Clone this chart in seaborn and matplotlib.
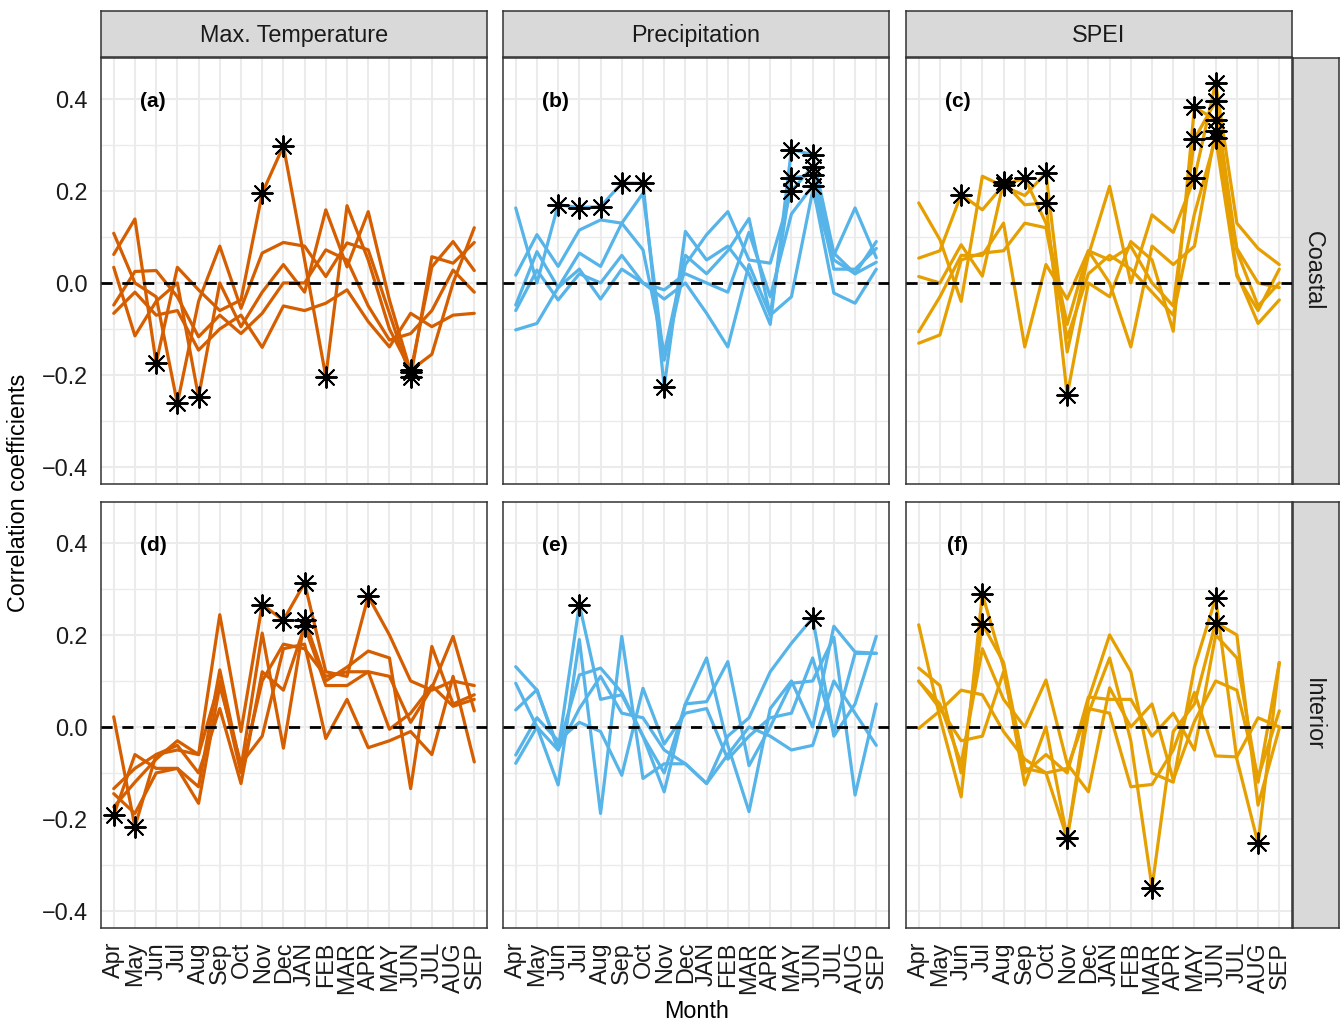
import numpy as np
import pandas as pd
import matplotlib
matplotlib.use("Agg")
import matplotlib.pyplot as plt
import seaborn as sns
from matplotlib.ticker import FixedLocator, FuncFormatter

# ---------------- data ----------------
months = ["Apr", "May", "Jun", "Jul", "Aug", "Sep", "Oct", "Nov", "Dec",
          "JAN", "FEB", "MAR", "APR", "MAY", "JUN", "JUL", "AUG", "SEP"]
variables = ["Max. Temperature", "Precipitation", "SPEI"]
regions = ["Coastal", "Interior"]
panel_tags = ["(a)", "(b)", "(c)", "(d)", "(e)", "(f)"]
var_colors = ["#D55E00", "#56B4E9", "#E69F00"]

tmax_coastal = [
    [0.062, 0.139, -0.174, 0.034, -0.015, -0.06, -0.037, 0.195, 0.298, 0.05, -0.204, 0.168, 0.05, -0.1, -0.19, -0.155, 0.0, 0.12],
    [0.108, 0.0, -0.03, -0.262, -0.04, 0.08, -0.055, 0.065, 0.088, 0.08, 0.014, 0.087, 0.072, -0.066, -0.205, 0.057, 0.043, 0.088],
    [0.034, -0.115, -0.04, 0.0, -0.248, 0.0, -0.095, -0.02, 0.04, -0.02, 0.159, 0.035, 0.155, -0.037, -0.193, 0.035, 0.09, 0.027],
    [-0.048, 0.025, 0.027, -0.03, -0.117, -0.07, -0.11, -0.066, 0.0, 0.0, 0.072, 0.05, -0.05, -0.124, -0.11, -0.06, 0.028, -0.02],
    [-0.066, -0.02, -0.07, -0.06, -0.146, -0.1, -0.07, -0.14, -0.05, -0.06, -0.044, -0.015, -0.084, -0.139, -0.066, -0.095, -0.07, -0.066],
]
tmax_coastal_sig = [(0, 2), (1, 3), (2, 4), (0, 7), (0, 8), (0, 10), (0, 14), (1, 14), (2, 14)]

prec_coastal = [
    [0.163, 0.0, 0.17, 0.164, 0.166, 0.217, 0.217, -0.226, 0.112, 0.05, 0.08, 0.02, -0.09, 0.29, 0.279, 0.065, 0.02, 0.09],
    [0.017, 0.105, 0.036, 0.115, 0.137, 0.13, 0.195, -0.168, 0.04, 0.105, 0.155, 0.05, 0.043, 0.2, 0.253, 0.06, 0.163, 0.055],
    [-0.048, 0.068, -0.01, 0.065, 0.036, 0.13, 0.072, -0.153, 0.06, 0.02, 0.07, 0.14, -0.07, 0.228, 0.235, 0.03, 0.03, 0.075],
    [-0.06, 0.028, -0.037, 0.02, 0.0, 0.06, 0.0, -0.015, 0.02, 0.0, -0.02, 0.11, -0.03, 0.15, 0.211, -0.022, -0.044, 0.03],
    [-0.102, -0.088, -0.01, 0.03, -0.035, 0.03, 0.0, -0.035, 0.0, -0.066, -0.139, 0.04, -0.07, -0.03, 0.2, 0.05, 0.02, 0.045],
]
prec_coastal_sig = [(0, 2), (0, 3), (0, 4), (0, 5), (0, 6), (0, 7), (0, 13), (0, 14),
                    (1, 13), (1, 14), (2, 13), (2, 14), (3, 14)]

spei_coastal = [
    [0.174, 0.094, -0.04, 0.232, 0.21, 0.19, 0.239, -0.15, 0.06, 0.21, 0.0, 0.148, 0.11, 0.228, 0.435, 0.13, 0.075, 0.04],
    [0.054, 0.07, 0.192, 0.159, 0.213, 0.228, 0.13, -0.09, 0.07, 0.05, 0.08, 0.0, -0.05, 0.313, 0.395, 0.07, -0.05, 0.0],
    [0.014, 0.0, 0.083, 0.015, 0.219, 0.17, 0.174, -0.244, 0.0, -0.03, 0.09, 0.05, -0.105, 0.382, 0.355, 0.02, -0.088, -0.037],
    [-0.106, -0.03, 0.06, 0.06, 0.13, -0.139, 0.04, -0.035, 0.07, 0.0, -0.139, 0.08, 0.04, 0.08, 0.33, 0.075, 0.0, -0.01],
    [-0.131, -0.113, 0.05, 0.065, 0.07, 0.13, 0.12, -0.12, 0.02, 0.06, 0.03, -0.02, -0.07, 0.15, 0.315, 0.015, -0.06, 0.03],
]
spei_coastal_sig = [(0, 6), (0, 13), (0, 14), (1, 2), (1, 4), (1, 5), (1, 13), (1, 14),
                    (2, 4), (2, 6), (2, 7), (2, 13), (2, 14), (3, 14), (4, 14)]

tmax_interior = [
    [0.022, -0.217, -0.06, -0.05, -0.06, 0.244, -0.01, 0.266, 0.232, 0.313, 0.12, 0.11, 0.284, 0.2, 0.1, 0.08, 0.1, 0.09],
    [-0.192, -0.06, -0.09, -0.09, -0.13, 0.124, -0.09, 0.204, -0.046, 0.233, 0.1, 0.13, 0.165, 0.15, -0.134, 0.175, 0.05, 0.07],
    [-0.134, -0.09, -0.06, -0.04, -0.1, 0.04, -0.123, 0.12, 0.08, 0.219, 0.09, 0.09, 0.12, 0.11, 0.01, 0.085, 0.197, 0.035],
    [-0.145, -0.188, -0.1, -0.09, -0.166, 0.09, -0.08, -0.02, 0.17, 0.18, -0.025, 0.06, -0.045, -0.03, -0.01, -0.06, 0.11, -0.076],
    [-0.174, -0.12, -0.07, -0.03, -0.06, 0.1, -0.1, 0.1, 0.18, 0.17, 0.11, 0.12, 0.12, -0.005, 0.03, 0.09, 0.045, 0.06],
]
tmax_interior_sig = [(0, 1), (0, 7), (0, 8), (0, 9), (0, 12), (1, 0), (1, 9), (2, 9)]

prec_interior = [
    [0.131, 0.08, -0.05, 0.266, 0.06, 0.07, -0.02, -0.1, 0.05, 0.15, -0.04, -0.184, 0.04, 0.1, 0.0, 0.219, 0.163, 0.16],
    [0.095, 0.0, -0.126, 0.19, -0.188, 0.197, -0.112, -0.08, -0.08, -0.123, -0.02, 0.02, 0.12, 0.182, 0.237, -0.02, 0.05, 0.197],
    [0.037, 0.081, -0.046, 0.113, 0.128, 0.075, -0.02, -0.141, 0.05, 0.055, 0.142, -0.084, 0.0, 0.095, 0.1, 0.195, -0.148, 0.05],
    [-0.061, 0.02, -0.03, 0.01, -0.01, -0.105, 0.084, -0.037, 0.03, 0.04, -0.07, -0.02, 0.02, 0.03, 0.15, -0.01, 0.16, 0.16],
    [-0.079, 0.0, -0.05, 0.04, 0.11, 0.03, 0.02, -0.05, -0.08, -0.123, -0.06, 0.0, -0.02, -0.05, -0.04, 0.1, 0.03, -0.04],
]
prec_interior_sig = [(0, 3), (1, 14)]

spei_interior = [
    [0.222, 0.02, -0.152, 0.289, 0.13, -0.126, 0.0, -0.242, 0.06, 0.2, 0.12, -0.1, -0.12, 0.13, 0.28, -0.07, -0.253, 0.14],
    [0.128, 0.09, -0.1, 0.224, 0.14, -0.09, -0.1, -0.242, 0.03, 0.15, -0.03, -0.349, -0.01, 0.05, 0.227, 0.2, -0.17, -0.003],
    [0.099, 0.05, -0.08, 0.17, 0.06, 0.0, 0.102, -0.08, -0.141, 0.085, 0.0, 0.05, -0.115, 0.012, 0.1, 0.08, -0.11, 0.035],
    [-0.003, 0.035, 0.08, 0.07, -0.01, -0.07, -0.1, -0.09, 0.04, 0.03, -0.13, -0.125, -0.05, 0.075, -0.063, -0.065, 0.02, 0.0],
    [0.1, 0.04, -0.03, -0.02, 0.12, -0.1, -0.06, -0.1, 0.065, 0.06, 0.06, -0.02, 0.03, -0.05, 0.2, 0.15, -0.12, 0.14],
]
spei_interior_sig = [(0, 3), (0, 7), (0, 14), (0, 16), (1, 3), (1, 7), (1, 11), (1, 14)]

panel_series = {
    ("Max. Temperature", "Coastal"): (tmax_coastal, tmax_coastal_sig),
    ("Precipitation", "Coastal"): (prec_coastal, prec_coastal_sig),
    ("SPEI", "Coastal"): (spei_coastal, spei_coastal_sig),
    ("Max. Temperature", "Interior"): (tmax_interior, tmax_interior_sig),
    ("Precipitation", "Interior"): (prec_interior, prec_interior_sig),
    ("SPEI", "Interior"): (spei_interior, spei_interior_sig),
}

rows = []
for (var, reg), (series, sig) in panel_series.items():
    sig_set = set(sig)
    for li, vals in enumerate(series):
        for mi, v in enumerate(vals):
            rows.append(dict(variable=var, region=reg, line=li, month=months[mi],
                             pos=mi, r=v, sig=(li, mi) in sig_set))
df = pd.DataFrame(rows)

# ---------------- style ----------------
sns.set_theme(style="white")
plt.rcParams["font.family"] = ["Liberation Sans", "DejaVu Sans"]
plt.rcParams["axes.unicode_minus"] = True

W, H = 1341, 1024
fig = plt.figure(figsize=(W / 100, H / 100), dpi=100)

col_left = [101, 503, 906]
panel_w = 386
row_top = [58, 502]
panel_h = 426
border = "#333333"
grid_c = "#EBEBEB"
strip_c = "#D9D9D9"
text_c = "#1A1A1A"
fs_tick = 16.8
fs_title = 16.8


def fx(px):
    return px / W


def fy(py):
    return 1 - py / H


def fmt(v, _):
    if abs(v) < 1e-9:
        return "0.0"
    return f"{v:.1f}".replace("-", "\u2212")


for ri, reg in enumerate(regions):
    for ci, var in enumerate(variables):
        ax = fig.add_axes([fx(col_left[ci]), fy(row_top[ri] + panel_h),
                           fx(panel_w), panel_h / H])
        ax.set_facecolor("white")
        sub = df[(df.variable == var) & (df.region == reg)]
        ax.axhline(0, color="black", lw=2.0, ls=(0, (4, 3.5)), zorder=4)
        sns.lineplot(data=sub, x="pos", y="r", units="line", estimator=None,
                     color=var_colors[ci], lw=2.3, ax=ax, legend=False, zorder=3)
        sns.scatterplot(data=sub[sub.sig], x="pos", y="r", marker=(8, 2, 0), s=220,
                        color="black", linewidth=1.4, ax=ax, legend=False, zorder=6)
        ax.set_xlim(-0.6, 17.6)
        ax.set_ylim(-0.437, 0.489)
        ax.xaxis.set_major_locator(FixedLocator(list(range(len(months)))))
        ax.yaxis.set_major_locator(FixedLocator([-0.4, -0.2, 0.0, 0.2, 0.4]))
        ax.yaxis.set_minor_locator(FixedLocator([-0.3, -0.1, 0.1, 0.3]))
        ax.set_axisbelow(True)
        ax.grid(which="major", color=grid_c, lw=1.5)
        ax.grid(which="minor", axis="y", color=grid_c, lw=1.0)
        ax.set_xlabel("")
        ax.set_ylabel("")
        for sp in ax.spines.values():
            sp.set_color(border)
            sp.set_linewidth(1.1)
            sp.set_visible(True)
        ax.tick_params(which="minor", length=0)
        ax.tick_params(which="major", length=4.5, width=1.1, color=border,
                       labelsize=fs_tick, labelcolor=text_c)
        ax.tick_params(axis="y", pad=5.0)
        ax.tick_params(axis="x", pad=5.5)
        if ri == len(regions) - 1:
            ax.set_xticklabels(months, rotation=90, ha="center", va="top")
        else:
            ax.tick_params(axis="x", length=0, labelbottom=False)
        if ci == 0:
            ax.yaxis.set_major_formatter(FuncFormatter(fmt))
        else:
            ax.tick_params(axis="y", length=0, labelleft=False)
        ax.text(1.85, 0.395, panel_tags[ri * 3 + ci], fontsize=15, fontweight="bold",
                ha="center", va="center", color="black", zorder=7)

# strips on top
for ci, var in enumerate(variables):
    sax = fig.add_axes([fx(col_left[ci]), fy(57), fx(panel_w), 46 / H])
    sax.set_facecolor(strip_c)
    sax.set_xticks([])
    sax.set_yticks([])
    for sp in sax.spines.values():
        sp.set_color(border)
        sp.set_linewidth(1.1)
    sax.text(0.5, 0.46, var, ha="center", va="center", fontsize=fs_title,
             color=text_c, transform=sax.transAxes)

# strips on the right
for ri, reg in enumerate(regions):
    sax = fig.add_axes([fx(1293), fy(row_top[ri] + panel_h), fx(46), panel_h / H])
    sax.set_facecolor(strip_c)
    sax.set_xticks([])
    sax.set_yticks([])
    for sp in sax.spines.values():
        sp.set_color(border)
        sp.set_linewidth(1.1)
    sax.text(0.45, 0.5, reg, ha="center", va="center", fontsize=fs_title,
             color=text_c, rotation=-90, transform=sax.transAxes)

fig.text(fx(19), fy(493), "Correlation coefficients", rotation=90,
         ha="center", va="center", fontsize=fs_title, color="black")
fig.text(fx(697), fy(1011), "Month", ha="center", va="center",
         fontsize=fs_title, color="black")

fig.savefig("out.png", dpi=100)
